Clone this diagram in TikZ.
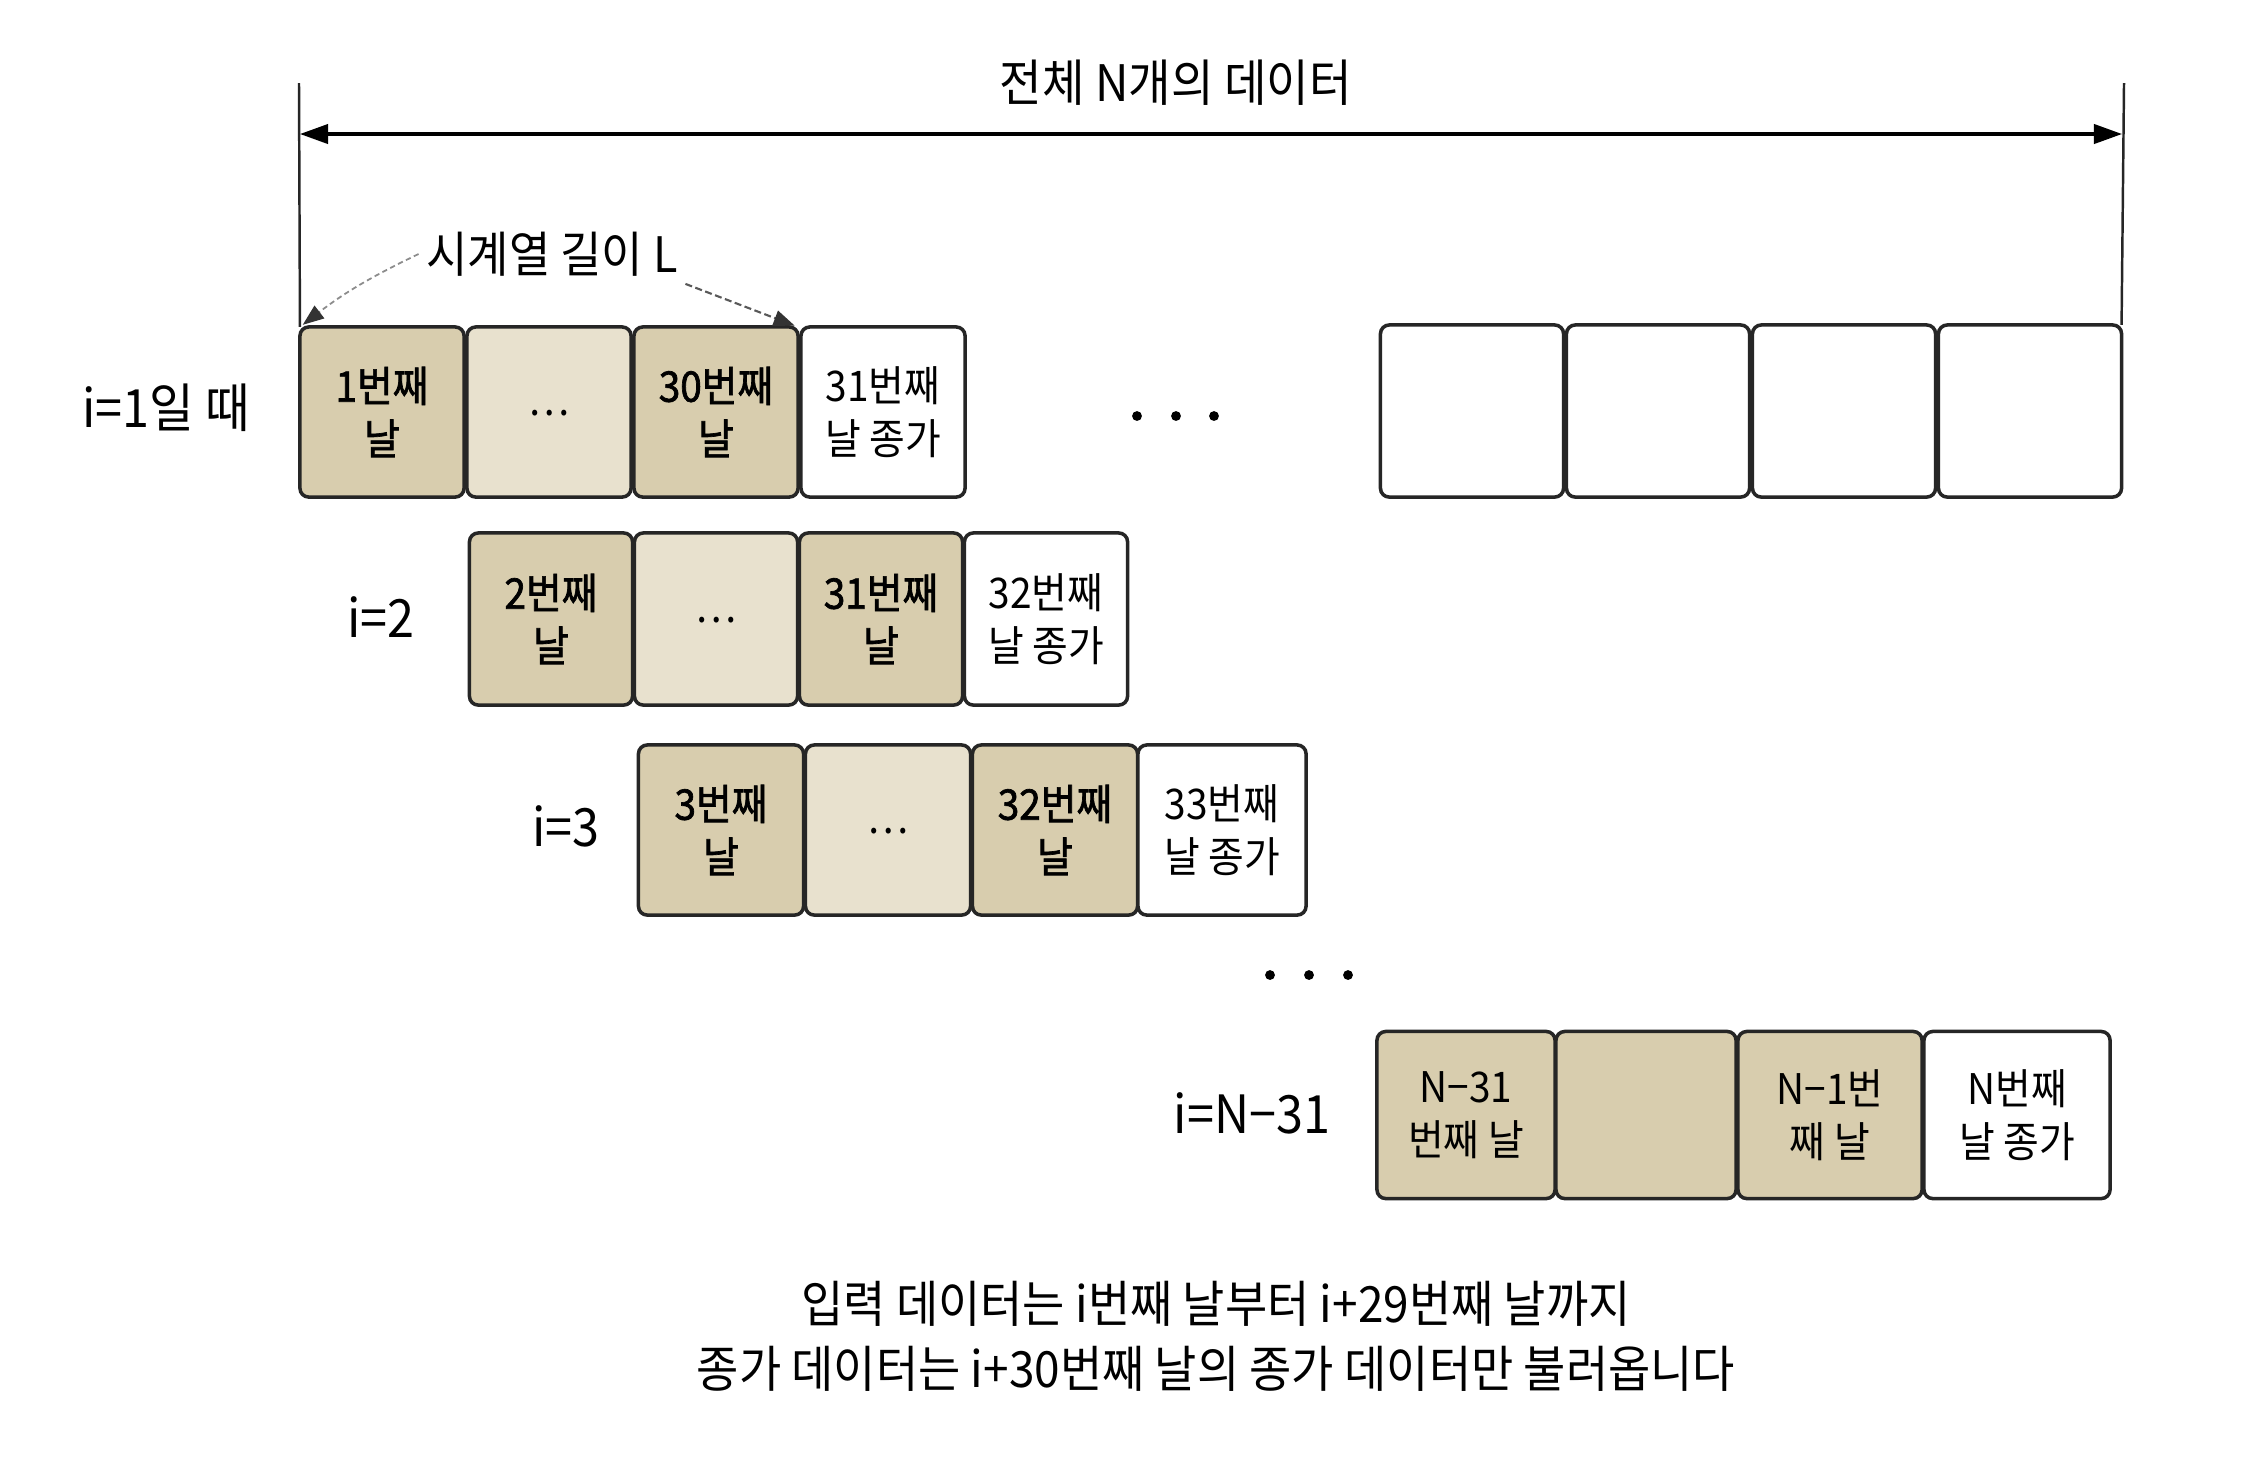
\documentclass[tikz,border=0pt]{standalone}
\usepackage{fontspec}
\setmainfont{Noto Sans CJK KR}[FakeStretch=0.92]
\newfontfamily\medkr{Noto Sans CJK KR}[FakeStretch=0.92,FakeBold=1.6]
\usetikzlibrary{arrows.meta}
\definecolor{tanA}{RGB}{216,205,174}
\definecolor{tanB}{RGB}{232,225,206}
\begin{document}
\begin{tikzpicture}[x=0.01cm,y=-0.01cm,
  cell/.style={draw=black!85, line width=1pt, rounded corners=2.5pt, inner sep=0pt, outer sep=0pt,
    align=center, font=\fontsize{12}{15}\selectfont, minimum width=1.64cm, minimum height=1.70cm},
  dcell/.style={cell, fill=tanA, font=\fontsize{12}{15}\selectfont\medkr},
  lcell/.style={cell, fill=tanB},
  wcell/.style={cell, fill=white},
  rcell/.style={cell, fill=tanA},
  rowlbl/.style={inner sep=0pt, font=\fontsize{15}{18}\selectfont},
  ttl/.style={inner sep=0pt, font=\fontsize{14.3}{17}\selectfont},
  lenlbl/.style={inner sep=2pt, font=\fontsize{13.9}{16}\selectfont},
  bot/.style={inner sep=0pt, align=center, font=\fontsize{14.2}{18.5}\selectfont},
  dimline/.style={line width=0.9pt, {Triangle[length=8pt,width=5.5pt]}-{Triangle[length=8pt,width=5.5pt]}},
  lentip/.style={-{Triangle[length=6pt,width=4.5pt,color=black!80,fill=black!80]}, shorten >=1pt},
  ext/.style={line width=0.7pt, black!85}
]
\fill[white] (0,0) rectangle (2252,1456);
\useasboundingbox (0,0) rectangle (2252,1456);

% title and dimension line
\node[ttl] (title) at (1176,83) {전체 N개의 데이터};
\coordinate (vl) at (299,83);
\coordinate (vr) at (2124,83);
\coordinate (al) at (300,134);
\coordinate (ar) at (2122,134);

% row 1
\node[dcell] (a1) at (382,412) {1번째\\날};
\node[lcell] (a2) at (549,412) {\raisebox{-2pt}{…}};
\node[dcell] (a3) at (716,412) {30번째\\날};
\node[wcell] (a4) at (883,412) {31번째\\날 종가};
\node[rowlbl] (l1) at (166,408) {i=1일 때};

\node[wcell, minimum width=1.83cm, minimum height=1.72cm] (r1) at (1472,411) {};
\node[wcell, minimum width=1.83cm, minimum height=1.72cm] (r2) at (1658,411) {};
\node[wcell, minimum width=1.83cm, minimum height=1.72cm] (r3) at (1844,411) {};
\node[wcell, minimum width=1.83cm, minimum height=1.72cm] (r4) at (2030,411) {};

\draw[ext] (vl) -- (a1.north west);
\draw[ext] (vr) -- (r4.north east);
\draw[dimline] (al) -- (ar);

\node[lenlbl] (len) at (552,254) {시계열 길이 L};
\draw[line width=0.5pt, black!45, dash pattern=on 1.5pt off 1pt, lentip]
  (len.west) to[bend right=6] (a1.north west);
\draw[line width=0.6pt, black!65, dash pattern=on 2pt off 1pt, lentip]
  (len.south east) -- (a3.north east);

% dots row 1
\fill (1137,416) circle (1.4pt);
\fill (1176,416) circle (1.4pt);
\fill (1214,416) circle (1.4pt);

% row 2
\node[rowlbl] (l2) at (381,617) {i=2};
\node[dcell, minimum width=1.63cm, minimum height=1.72cm] (b1) at (551,619) {2번째\\날};
\node[lcell, minimum width=1.63cm, minimum height=1.72cm] (b2) at (716,619) {\raisebox{-2pt}{…}};
\node[dcell, minimum width=1.63cm, minimum height=1.72cm] (b3) at (881,619) {31번째\\날};
\node[wcell, minimum width=1.63cm, minimum height=1.72cm] (b4) at (1046,619) {32번째\\날 종가};

% row 3
\node[rowlbl] (l3) at (566,826) {i=3};
\node[dcell, minimum width=1.65cm] (c1) at (721,830) {3번째\\날};
\node[lcell, minimum width=1.65cm] (c2) at (888,830) {\raisebox{-2pt}{…}};
\node[dcell, minimum width=1.65cm] (c3) at (1055,830) {32번째\\날};
\node[wcell, minimum width=1.68cm] (c4) at (1222,830) {33번째\\날 종가};

% dots row 3
\fill (1270,975) circle (1.4pt);
\fill (1309,975) circle (1.4pt);
\fill (1348,975) circle (1.4pt);

% row 4
\node[rowlbl] (l4) at (1252,1113) {i=N−31};
\node[rcell, minimum width=1.78cm, minimum height=1.67cm] (d1) at (1466,1115) {N−31\\번째 날};
\node[rcell, minimum width=1.80cm, minimum height=1.67cm] (d2) at (1646,1115) {};
\node[rcell, minimum width=1.84cm, minimum height=1.67cm] (d3) at (1830,1115) {N−1번\\째 날};
\node[wcell, minimum width=1.86cm, minimum height=1.67cm] (d4) at (2017,1115) {N번째\\날 종가};

% bottom caption
\node[bot] (cap) at (1216,1336) {입력 데이터는 i번째 날부터 i+29번째 날까지\\종가 데이터는 i+30번째 날의 종가 데이터만 불러옵니다};
\end{tikzpicture}
\end{document}
